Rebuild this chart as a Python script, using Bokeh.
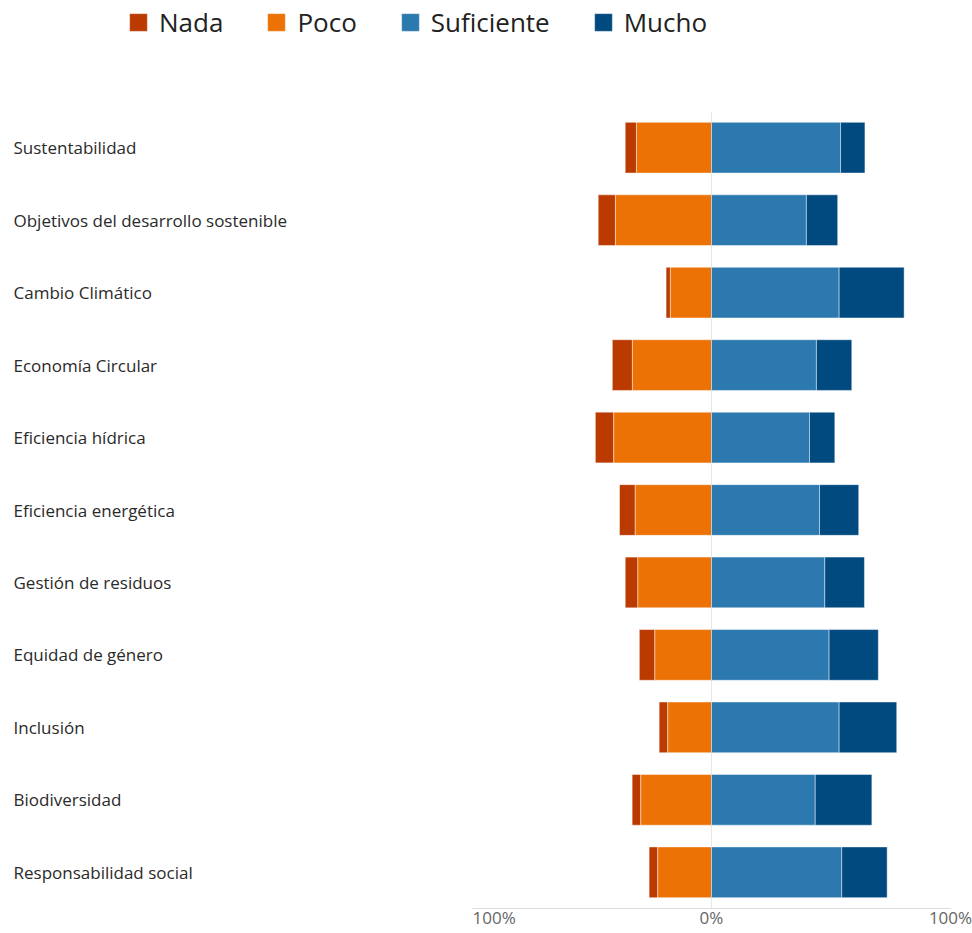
import numpy as np
from bokeh.plotting import figure
from bokeh.models import FactorRange, Range1d, Legend, LegendItem, FixedTicker, ColumnDataSource
from bokeh.layouts import column, row
from bokeh.embed import file_html
from bokeh.resources import INLINE
from bokeh.core.properties import value

categories = ["Sustentabilidad", "Objetivos del desarrollo sostenible", "Cambio Climático",
              "Economía Circular", "Eficiencia hídrica", "Eficiencia energética",
              "Gestión de residuos", "Equidad de género", "Inclusión", "Biodiversidad",
              "Responsabilidad social"]
nada = [4.7, 7.2, 1.8, 8.4, 7.7, 6.6, 5.3, 6.5, 3.6, 3.6, 3.6]
poco = [31.4, 40.2, 17.2, 33.1, 40.9, 31.9, 30.8, 23.7, 18.3, 29.6, 22.5]
suficiente = [54.0, 39.7, 53.4, 43.9, 41.0, 45.2, 47.4, 49.2, 53.4, 43.4, 54.5]
mucho = [10.2, 13.1, 27.2, 14.8, 10.6, 16.4, 16.6, 20.6, 24.1, 23.7, 19.0]
series = ["Nada", "Poco", "Suficiente", "Mucho"]
colors = ["#BA3A00", "#EC7205", "#2C79B0", "#004A80"]
x_ticks = [-100, 0, 100]
x_tick_labels = ["100%", "0%", "100%"]

FONT = "Open Sans"
FRAME_H = 798
BOTTOM = 22
LEG_H = 111

n = np.array(nada); p_ = np.array(poco); s = np.array(suficiente); m = np.array(mucho)
src = ColumnDataSource(dict(
    cat=categories,
    nada_l=-(p_ + n), nada_r=-p_,
    poco_l=-p_, poco_r=np.zeros(len(p_)),
    suf_l=np.zeros(len(s)), suf_r=s,
    mucho_l=s, mucho_r=s + m,
))
pairs = [("nada_l", "nada_r"), ("poco_l", "poco_r"), ("suf_l", "suf_r"), ("mucho_l", "mucho_r")]

yr = FactorRange(factors=list(reversed(categories)))

main = figure(width=500, height=FRAME_H + BOTTOM, y_range=yr, x_range=Range1d(-100, 100),
              output_backend="svg", toolbar_location=None, y_axis_location=None,
              min_border_left=0, min_border_right=22, min_border_top=0,
              min_border_bottom=BOTTOM, outline_line_color=None)

for (l, r), c in zip(pairs, colors):
    main.hbar(y="cat", left=l, right=r, height=0.7, source=src, fill_color=c,
              line_color="white", line_alpha=0.45, line_width=1)

def style_xaxis(ax, visible_labels=True):
    ax.ticker = FixedTicker(ticks=x_ticks)
    ax.major_label_overrides = {t: lab for t, lab in zip(x_ticks, x_tick_labels)}
    ax.major_tick_line_color = None
    ax.minor_tick_line_color = None
    ax.major_label_standoff = -9
    ax.major_label_text_font = FONT
    ax.major_label_text_font_size = "17px"
    ax.major_label_text_color = "#666666"
    if visible_labels:
        ax.axis_line_color = "#dddddd"
    else:
        ax.axis_line_color = None
        ax.major_label_text_alpha = 0

style_xaxis(main.xaxis[0])
main.xgrid.ticker = FixedTicker(ticks=x_ticks)
main.xgrid.grid_line_color = "#e6e6e6"
main.ygrid.grid_line_color = None

lab = figure(width=472, height=FRAME_H + BOTTOM, y_range=yr, x_range=Range1d(0, 1),
             output_backend="svg", toolbar_location=None, y_axis_location=None,
             min_border_left=0, min_border_right=0, min_border_top=0,
             min_border_bottom=BOTTOM, outline_line_color=None)
lab.grid.visible = False
style_xaxis(lab.xaxis[0], visible_labels=False)
lab.text(x=0, y=categories, text=categories, x_offset=13, text_align="left",
         text_baseline="middle", text_font=value(FONT), text_font_size="17px",
         text_color="#2a2a2a")

leg = figure(width=972, height=LEG_H, x_range=Range1d(-100, 100), y_range=yr,
             output_backend="svg", toolbar_location=None, x_axis_location=None,
             y_axis_location=None, min_border=0, outline_line_color=None)
leg.grid.visible = False
items = []
for name, (l, r), c in zip(series, pairs, colors):
    rr = leg.hbar(y="cat", left=l, right=r, height=0.7, source=src, fill_color=c,
                  line_color="white", line_alpha=0.3, line_width=1, visible=False)
    items.append(LegendItem(label=name, renderers=[rr]))
legend = Legend(items=items, orientation="horizontal", location=(127, 71),
                label_text_font=FONT, label_text_font_size="26px", label_text_color="#222222",
                glyph_width=22, glyph_height=22, label_standoff=10, spacing=42,
                padding=0, margin=0, border_line_color=None, background_fill_alpha=0,
                inactive_fill_alpha=0)
leg.add_layout(legend, "center")

layout = column(leg, row(lab, main))
open("out.html", "w").write(file_html(layout, INLINE))
